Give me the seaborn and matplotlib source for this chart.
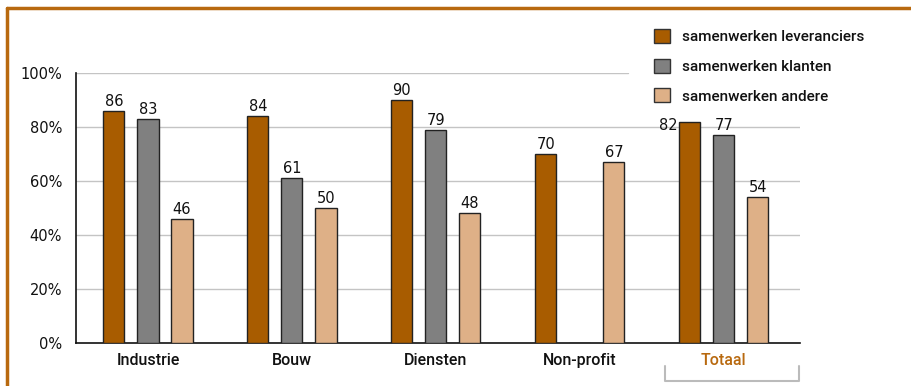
import matplotlib
matplotlib.use("Agg")
import matplotlib.pyplot as plt
from matplotlib.lines import Line2D
import matplotlib.transforms as mtransforms
import seaborn as sns
import pandas as pd

# Data
categories = ["Industrie", "Bouw", "Diensten", "Non-profit", "Totaal"]
series = ["samenwerken leveranciers", "samenwerken klanten", "samenwerken andere"]
leveranciers = [86, 84, 90, 70, 82]
klanten = [83, 61, 79, 0, 77]
andere = [46, 50, 48, 67, 54]
y_ticks = [0, 20, 40, 60, 80, 100]
y_tick_labels = ["0%", "20%", "40%", "60%", "80%", "100%"]

colors = ["#A85C00", "#808080", "#DEB087"]
accent = "#B8690F"

rows = []
for s, vals in zip(series, [leveranciers, klanten, andere]):
    for c, v in zip(categories, vals):
        rows.append({"categorie": c, "reeks": s, "waarde": v})
df = pd.DataFrame(rows)

sns.set_style("white")
narrow = ["Roboto", "DejaVu Sans"]
plt.rcParams["font.family"] = ["DejaVu Sans"]
plt.rcParams["text.color"] = "#111111"
plt.rcParams["xtick.color"] = "#111111"
plt.rcParams["ytick.color"] = "#111111"
plt.rcParams["xtick.labelcolor"] = "#111111"
plt.rcParams["ytick.labelcolor"] = "#111111"

fig = plt.figure(figsize=(9.11, 3.86), dpi=100)
ax = fig.add_axes([76 / 911, 43 / 386, 724 / 911, 270 / 386])

sns.barplot(data=df, x="categorie", y="waarde", hue="reeks", order=categories,
            hue_order=series, palette=colors, saturation=1, width=0.71, gap=0.38,
            edgecolor="#222222", linewidth=1.0, ax=ax, legend=False, zorder=3)

ax.set_xlim(-0.5, 4.53)
ax.set_ylim(0, 100)
ax.set_yticks(y_ticks)
ax.set_yticklabels(y_tick_labels, fontsize=10.5, color="#111111")
ax.set_xlabel("")
ax.set_ylabel("")

# Horizontal guides; the top one stops short of the legend
for t in y_ticks[1:-1]:
    ax.axhline(t, color="#C4C4C4", linewidth=1.0, zorder=1)
ax.axhline(100, xmax=0.762, color="#C4C4C4", linewidth=1.0, zorder=1)

for side in ["top", "right"]:
    ax.spines[side].set_visible(False)
for side in ["left", "bottom"]:
    ax.spines[side].set_color("#111111")
    ax.spines[side].set_linewidth(1.2)
ax.tick_params(axis="both", length=0)
ax.tick_params(axis="y", pad=10)
ax.tick_params(axis="x", pad=7)
for lbl in ax.get_xticklabels():
    lbl.set_fontfamily(narrow)
    lbl.set_fontsize(11.5)
    lbl.set_fontweight("medium")
    lbl.set_color(accent if lbl.get_text() == "Totaal" else "#111111")

# Value labels
for cont in ax.containers:
    for bar in cont:
        h = bar.get_height()
        if h == 0:
            continue
        x = bar.get_x() + bar.get_width() / 2
        cat = categories[int(round(x))]
        if cat == "Totaal" and cont is ax.containers[0]:
            ax.text(bar.get_x() - 0.01, h + 1.5, f"{h:.0f}", ha="right", va="top",
                    fontsize=10.5, color="#111111")
        else:
            ax.text(x, h + 0.8, f"{h:.0f}", ha="center", va="bottom",
                    fontsize=10.5, color="#111111")

# Bracket under the total group
trans = mtransforms.blended_transform_factory(ax.transData, ax.transAxes)
x0, x1 = 3.59, 4.52
y0, y1 = -0.085, -0.141
ax.add_line(Line2D([x0, x0, x1, x1], [y0, y1, y1, y0], transform=trans,
                   color="#BBBBBB", linewidth=1.5, clip_on=False))

# Legend
handles = [plt.Rectangle((0, 0), 1, 1, facecolor=c, edgecolor="#333333", linewidth=1.0)
           for c in colors]
leg = fig.legend(handles, series, loc="upper left",
                 bbox_to_anchor=(643 / 911, 1 - 18 / 386),
                 frameon=False, prop={"family": narrow, "size": 11, "weight": "medium"},
                 handlelength=1.05, handleheight=1.05, handletextpad=0.8,
                 labelspacing=0.95, borderpad=0.2)
for t in leg.get_texts():
    t.set_color("#111111")

# Frame lines along the top and left edges
fig.add_artist(Line2D([7 / 911, 1], [1 - 8 / 386, 1 - 8 / 386], transform=fig.transFigure,
                      color=accent, linewidth=2.5))
fig.add_artist(Line2D([7 / 911, 7 / 911], [0, 1 - 8 / 386], transform=fig.transFigure,
                      color=accent, linewidth=2.5))

fig.savefig("out.png", dpi=100)
